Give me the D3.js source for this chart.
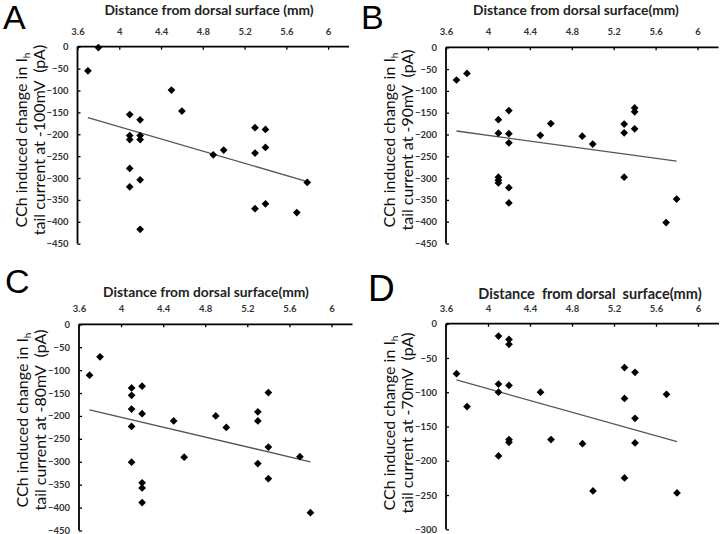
<!DOCTYPE html>
<html><head><meta charset="utf-8">
<script src="https://cdn.jsdelivr.net/npm/d3@7"></script>
<style>body{margin:0;background:#fff}svg{display:block}</style>
</head><body>
<svg id="c" width="720" height="534"></svg>
<script>
// ---- data ----
const xTicks = [3.6, 4, 4.4, 4.8, 5.2, 5.6, 6];
const yTicksABC = [0, -50, -100, -150, -200, -250, -300, -350, -400, -450];
const yTicksD = [0, -50, -100, -150, -200, -250, -300];

const distA = [3.7,3.8,4.1,4.1,4.1,4.1,4.1,4.2,4.2,4.2,4.2,4.2,4.5,4.6,4.9,5.0,5.3,5.3,5.3,5.4,5.4,5.4,5.7,5.8];
const ihA   = [-55,-2,-155,-203,-212,-278,-320,-167,-203,-212,-304,-417,-99,-147,-247,-236,-185,-243,-370,-189,-230,-359,-379,-310];
const trendA = [[3.7,-162],[5.8,-308]];

const distB = [3.7,3.8,4.1,4.1,4.1,4.1,4.1,4.2,4.2,4.2,4.2,4.2,4.5,4.6,4.9,5.0,5.3,5.3,5.3,5.4,5.4,5.4,5.7,5.8];
const ihB   = [-75,-60,-166,-197,-298,-305,-311,-145,-198,-219,-322,-357,-202,-175,-204,-222,-176,-196,-298,-139,-148,-187,-402,-348];
const trendB = [[3.7,-192],[5.8,-261]];

const distC = [3.7,3.8,4.1,4.1,4.1,4.1,4.1,4.2,4.2,4.2,4.2,4.2,4.5,4.6,4.9,5.0,5.3,5.3,5.3,5.4,5.4,5.4,5.7,5.8];
const ihC   = [-111,-71,-139,-155,-185,-223,-301,-135,-195,-346,-357,-389,-211,-290,-200,-225,-191,-211,-304,-149,-268,-337,-289,-411];
const trendC = [[3.7,-187],[5.8,-300]];

const distD = [3.7,3.8,4.1,4.1,4.1,4.1,4.2,4.2,4.2,4.2,4.2,4.5,4.6,4.9,5.0,5.3,5.3,5.3,5.4,5.4,5.4,5.7,5.8];
const ihD   = [-73,-121,-18,-88,-100,-193,-23,-30,-90,-169,-173,-100,-169,-175,-244,-64,-109,-225,-71,-138,-174,-103,-247];
const trendD = [[3.7,-82],[5.8,-172]];

const panels = [
  {letter:"A", title:"Distance from dorsal surface (mm)", volt:"-100mV", xs:distA, ys:ihA, trend:trendA, yTicks:yTicksABC,
   x0:77.5, x1:349, y0:46.7, y1:243.7, lx:3, ly:29, lsize:34, ty:15, tsize:13.8, tcx:209, labCy:140},
  {letter:"B", title:"Distance from dorsal surface(mm)", volt:"-90mV", xs:distB, ys:ihB, trend:trendB, yTicks:yTicksABC,
   x0:446, x1:718.5, y0:47.3, y1:243.5, lx:361, ly:29, lsize:34, ty:15, tsize:13.8, tcx:576, labCy:140},
  {letter:"C", title:"Distance from dorsal surface(mm)", volt:"-80mV", xs:distC, ys:ihC, trend:trendC, yTicks:yTicksABC,
   x0:79, x1:352.5, y0:324.3, y1:530.5, lx:5, ly:293, lsize:34, ty:297, tsize:13.8, tcx:206, labCy:420},
  {letter:"D", title:"Distance  from dorsal  surface(mm)", volt:"-70mV", xs:distD, ys:ihD, trend:trendD, yTicks:yTicksD,
   x0:446, x1:719, y0:323.7, y1:529.3, lx:368, ly:301, lsize:37, ty:298.5, tsize:14.5, tcx:590, labCy:423}
];

const svg = d3.select("#c");

panels.forEach(p => {
  const g = svg.append("g");
  const x = d3.scaleLinear().domain([3.6, 6.2]).range([p.x0, p.x1]);
  const yMin = d3.min(p.yTicks);
  const y = d3.scaleLinear().domain([0, yMin]).range([p.y0, p.y1]);

  // panel letter
  g.append("text").attr("x", p.lx).attr("y", p.ly)
    .attr("font-family", "Liberation Sans, Arial, sans-serif")
    .attr("font-size", p.lsize).attr("fill", "#000").text(p.letter);

  // title
  g.append("text").attr("x", p.tcx).attr("y", p.ty)
    .attr("text-anchor", "middle").attr("font-family", "Lato, sans-serif")
    .attr("font-weight", "bold").attr("font-size", p.tsize).attr("fill", "#222")
    .attr("xml:space", "preserve").style("white-space", "pre")
    .text(p.title);

  // x axis (top, ticks inward)
  const xAxis = d3.axisTop(x).tickValues(xTicks).tickSize(-3).tickPadding(12)
    .tickFormat(d => d3.format("")(d));
  const gx = g.append("g").attr("transform", `translate(0,${p.y0})`).call(xAxis);
  gx.select(".domain").attr("stroke", "#000").attr("stroke-width", 1.8)
    .attr("d", `M${p.x0},0H${p.x1}`);
  gx.selectAll(".tick line").attr("stroke", "#000").attr("stroke-width", 1.3);
  gx.selectAll(".tick text").attr("font-family", "Lato, sans-serif").attr("font-weight", "bold")
    .attr("font-size", 9.5).attr("fill", "#333");

  // y axis (left, ticks inward)
  const yAxis = d3.axisLeft(y).tickValues(p.yTicks).tickSize(-3).tickPadding(9);
  const gy = g.append("g").attr("transform", `translate(${p.x0},0)`).call(yAxis);
  gy.select(".domain").attr("stroke", "#000").attr("stroke-width", 1.8)
    .attr("d", `M0,${p.y0}V${p.y1}`);
  gy.selectAll(".tick line").attr("stroke", "#000").attr("stroke-width", 1.3);
  gy.selectAll(".tick text").attr("font-family", "Lato, sans-serif").attr("font-weight", "bold")
    .attr("font-size", 9.5).attr("fill", "#333");

  // y label (two lines)
  const lab = g.append("text")
    .attr("transform", `translate(${p.x0 - 51},${p.labCy}) rotate(-90)`)
    .attr("text-anchor", "middle").attr("font-family", "Lato, sans-serif")
    .attr("font-size", 16).attr("fill", "#111");
  lab.append("tspan").attr("x", 0).attr("y", 0).text("CCh induced change in I");
  lab.append("tspan").attr("font-size", 10).attr("dy", 3).text("h");
  g.append("text")
    .attr("transform", `translate(${p.x0 - 33},${p.labCy}) rotate(-90)`)
    .attr("text-anchor", "middle").attr("font-family", "Lato, sans-serif")
    .attr("font-size", 16).attr("fill", "#111")
    .attr("xml:space", "preserve").style("white-space", "pre")
    .text(`tail current at ${p.volt}  (pA)`);

  // trend line
  g.append("path").datum(p.trend)
    .attr("d", d3.line().x(d => x(d[0])).y(d => y(d[1])))
    .attr("stroke", "#555").attr("stroke-width", 1.3).attr("fill", "none");

  // points
  const sym = d3.symbol().type(d3.symbolSquare).size(30);
  g.selectAll("path.pt").data(p.xs.map((d, i) => [d, p.ys[i]])).join("path")
    .attr("class", "pt")
    .attr("transform", d => `translate(${x(d[0])},${y(d[1])}) rotate(45)`)
    .attr("d", sym).attr("fill", "#000");
});
</script>
</body></html>
